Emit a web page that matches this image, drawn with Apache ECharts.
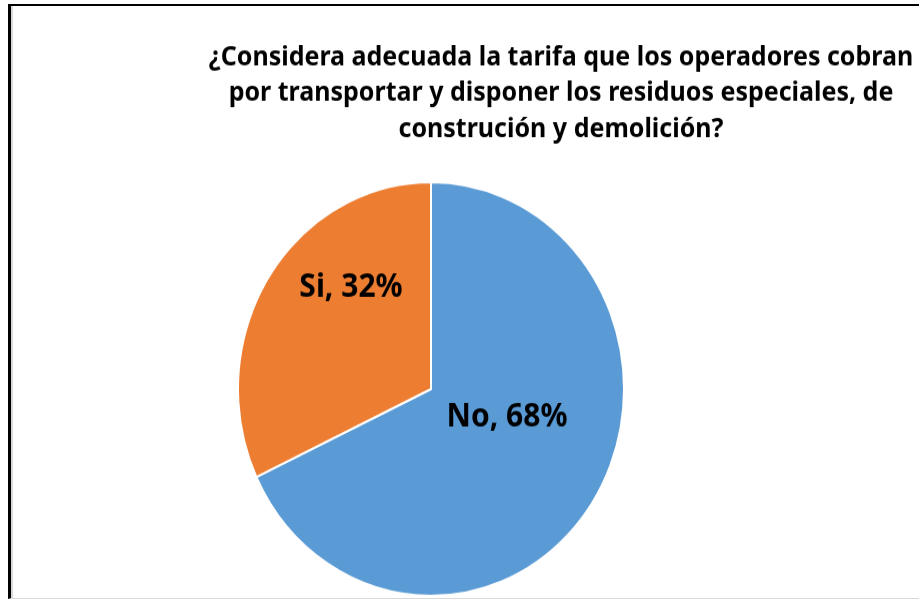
<!DOCTYPE html>
<html>
<head>
<meta charset="utf-8">
<script src="https://cdn.jsdelivr.net/npm/echarts@6/dist/echarts.min.js"></script>
<style>
    html, body {margin: 0; padding: 0; background: #fff; overflow: hidden;}
    #frame {position: absolute; left: 0; top: 0; width: 919px; height: 599px;}
    /* the reference pie is stretched vertically, so the chart is too */
    #chartWrap {position: absolute; left: 0; top: 0; width: 919px; height: 559px;
        transform: scaleY(1.0716); transform-origin: 0 0;}
    #border {position: absolute; left: 8px; top: 4px; width: 940px; height: 592px;
        border-left: 3px solid #000; border-top: 2px solid #000; border-bottom: 1px solid #d9d9d9;
        box-shadow: inset 2px 0 0 #d9d9d9;}
</style>
</head>
<body>
<div id="frame">
    <div id="chartWrap"></div>
    <div id="border"></div>
</div>
<script>
    const titleText = '¿Considera adecuada la tarifa que los operadores cobran\npor transportar y disponer los residuos especiales, de\nconstrución y demolición?';
    const categories = ['No', 'Si'];
    const percents = [68, 32];
    const colors = ['#5B9BD5', '#ED7D31'];
    // label nudges so they sit where the spreadsheet put them
    const labelShift = [[-8, -27], [4, -41]];

    let myChart = echarts.init(document.getElementById('chartWrap'));

    let pieData = categories.map(function (name, i) {
        return {name: name, value: percents[i], itemStyle: {color: colors[i]}};
    });

    myChart.setOption({
        animation: false,
        title: {
            text: titleText,
            left: 556,
            top: 32,
            textAlign: 'center',
            textStyle: {
                fontFamily: 'Noto Sans',
                fontWeight: 'bold',
                fontSize: 25,
                lineHeight: 33.5,
                color: '#000'
            }
        },
        series: [{
            type: 'pie',
            center: [431, 363],
            radius: 193,
            startAngle: 90,
            clockwise: true,
            data: pieData,
            itemStyle: {borderColor: '#fff', borderWidth: 2},
            label: {
                show: true,
                position: 'inside',
                formatter: function (p) {
                    return p.name + ', ' + p.value + '%';
                },
                fontFamily: 'Noto Sans',
                fontWeight: 'bold',
                fontSize: 30,
                color: '#000'
            },
            labelLine: {show: false},
            labelLayout: function (params) {
                return {dx: labelShift[params.dataIndex][0], dy: labelShift[params.dataIndex][1]};
            },
            emphasis: {disabled: true}
        }]
    });
</script>
</body>
</html>
